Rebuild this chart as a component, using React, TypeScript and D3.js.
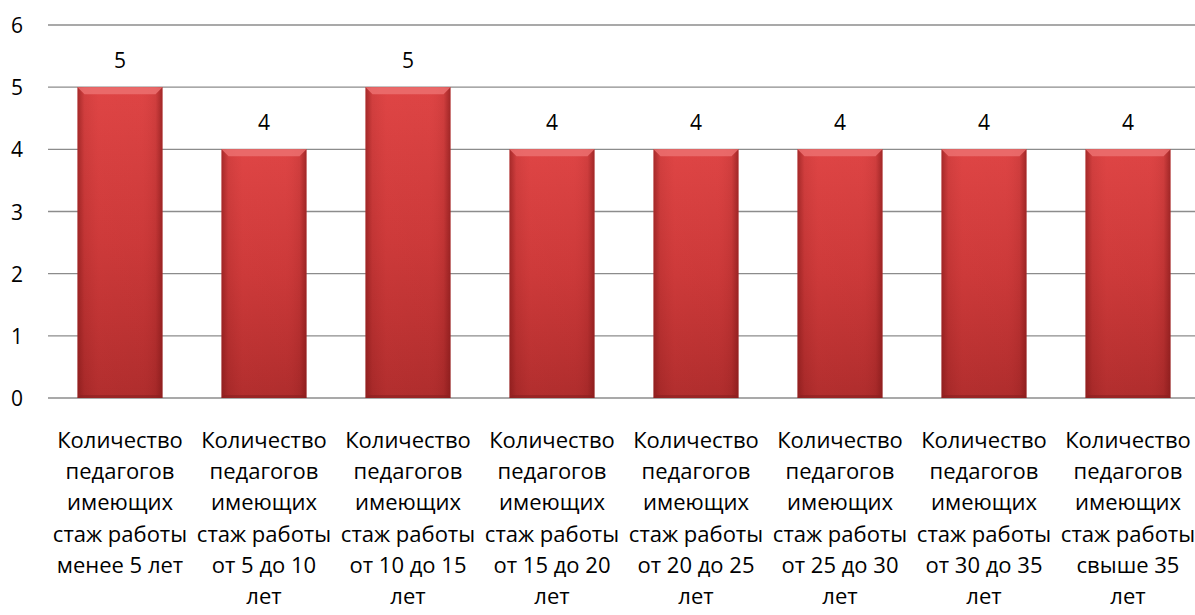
import React from "react";
import * as d3 from "d3";

// values and labels
const categories = ["c1", "c2", "c3", "c4", "c5", "c6", "c7", "c8"];
const values = [5, 4, 5, 4, 4, 4, 4, 4];
const labelLines = [
  ["Количество", "педагогов", "имеющих", "стаж работы", "менее 5 лет"],
  ["Количество", "педагогов", "имеющих", "стаж работы", "от 5 до 10", "лет"],
  ["Количество", "педагогов", "имеющих", "стаж работы", "от 10 до 15", "лет"],
  ["Количество", "педагогов", "имеющих", "стаж работы", "от 15 до 20", "лет"],
  ["Количество", "педагогов", "имеющих", "стаж работы", "от 20 до 25", "лет"],
  ["Количество", "педагогов", "имеющих", "стаж работы", "от 25 до 30", "лет"],
  ["Количество", "педагогов", "имеющих", "стаж работы", "от 30 до 35", "лет"],
  ["Количество", "педагогов", "имеющих", "стаж работы", "свыше 35", "лет"],
];
const yTicks = [0, 1, 2, 3, 4, 5, 6];

const W = 1195;
const H = 615;
const FONT = "'Open Sans', 'Noto Sans', sans-serif";

export default function App() {
  const x = d3.scaleBand().domain(categories).range([48, 1200]).paddingInner(0.41).paddingOuter(0.205);
  const y = d3.scaleLinear().domain([0, 6]).range([398, 25]);
  const bw = x.bandwidth();

  return (
    <svg
      width={W}
      height={H}
      style={{ position: "absolute", left: 0, top: 0, background: "#fff" }}
      fontFamily={FONT}
    >
      <defs>
        <linearGradient id="barV" x1="0" y1="0" x2="0" y2="1">
          <stop offset="0%" stopColor="#dc4444" />
          <stop offset="50%" stopColor="#c93838" />
          <stop offset="100%" stopColor="#ab2b2b" />
        </linearGradient>
        <linearGradient id="barH" x1="0" y1="0" x2="1" y2="0">
          <stop offset="0%" stopColor="#7a1515" stopOpacity="0.55" />
          <stop offset="8%" stopColor="#7a1515" stopOpacity="0.1" />
          <stop offset="25%" stopColor="#ff5050" stopOpacity="0.08" />
          <stop offset="75%" stopColor="#ff5050" stopOpacity="0.05" />
          <stop offset="92%" stopColor="#7a1515" stopOpacity="0.12" />
          <stop offset="100%" stopColor="#7a1515" stopOpacity="0.6" />
        </linearGradient>
      </defs>

      {/* gridlines */}
      {yTicks.map((t) => (
        <line key={t} x1={48} x2={1200} y1={y(t)} y2={y(t)} stroke="#8c8c8c" strokeWidth={1.3} />
      ))}

      {/* y labels */}
      {yTicks.map((t) => (
        <text key={t} x={23} y={y(t) + 8} textAnchor="end" fontSize={21} fill="#000">
          {t}
        </text>
      ))}

      {/* bars */}
      {values.map((v, i) => {
        const bx = x(categories[i]) as number;
        const by = y(v);
        const bh = y(0) - by;
        const b = 7;
        return (
          <g key={i}>
            <rect x={bx} y={by} width={bw} height={bh} fill="url(#barV)" />
            <rect x={bx} y={by} width={bw} height={bh} fill="url(#barH)" />
            <polygon
              points={`${bx},${by} ${bx + bw},${by} ${bx + bw - b},${by + b} ${bx + b},${by + b}`}
              fill="#ec7070"
              opacity={0.85}
            />
            <polygon
              points={`${bx},${by + bh} ${bx + bw},${by + bh} ${bx + bw - 3},${by + bh - 3} ${bx + 3},${by + bh - 3}`}
              fill="#8a2020"
              opacity={0.6}
            />
            <text x={bx + bw / 2} y={by - 19} textAnchor="middle" fontSize={21} fill="#000">
              {v}
            </text>
          </g>
        );
      })}

      {/* category labels */}
      {labelLines.map((lines, i) => {
        const cx = (x(categories[i]) as number) + bw / 2;
        return (
          <text key={i} textAnchor="middle" fontSize={22} fill="#000">
            {lines.map((l, j) => (
              <tspan key={j} x={cx} y={448 + j * 31.2}>
                {l}
              </tspan>
            ))}
          </text>
        );
      })}
    </svg>
  );
}
